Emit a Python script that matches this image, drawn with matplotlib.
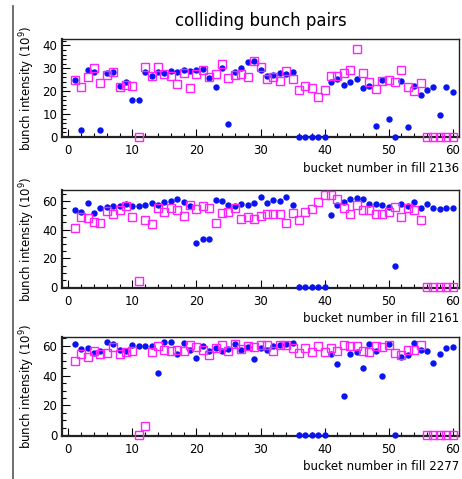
import numpy as np
import matplotlib
matplotlib.use("Agg")
from matplotlib import pyplot as plt
from matplotlib.lines import Line2D
from matplotlib.ticker import MultipleLocator

# bucket numbers 1..60
buckets = list(range(1, 61))

# fill 2136
fill_2136_blue = [25, 3.2, 29.3, 28.2, 3.2, 28, 28.2, 22.4, 23.8, 15.9,
                  16.3, 28.4, 26.6, 28.2, 28, 28.8, 28.5, 29.1, 29, 29.3,
                  29.6, 25.6, 21.9, 29.9, 5.6, 28.4, 30, 32.6, 33.2, 29.3,
                  26.5, 27, 27.8, 27.4, 28.2, 0, 0, 0, 0, 0,
                  24.1, 25.3, 22.5, 24.1, 25.4, 21.3, 22.4, 4.9, 25, 7.6,
                  0, 24.4, 4.3, 22.2, 18.2, 20.6, 21.8, 9.6, 21.8, 19.7]
fill_2136_mag = [25, 21.8, 26.3, 30.1, 23.4, 27, 28.5, 21.8, 22.6, 22.4,
                 0, 30.6, 26.5, 30.7, 27.5, 26.8, 23.2, 27.9, 21.2, 27.5,
                 29.4, 26.3, 27.4, 31.9, 25.6, 26.9, 27.4, 26.2, 33, 30.7,
                 25.1, 26, 24.3, 28.8, 25.1, 20.7, 22.1, 21.2, 17.4, 20.7,
                 26.5, 26.8, 28.1, 29.3, 38.5, 27.8, 24, 20.9, 24.6, 25,
                 24.1, 29.4, 21.6, 19.9, 23.5, 0, 0, 0, 0, 0]

# fill 2161
fill_2161_blue = [53.7, 52.1, 58.4, 51.6, 55.3, 55.8, 56.7, 56.7, 57.9, 56.7,
                  56.3, 57.2, 58.4, 57.4, 59.3, 60.2, 61.2, 59.1, 56.5, 30.7,
                  33.3, 33.5, 60.5, 60.2, 57.4, 56.3, 58.1, 57.2, 58.6, 62.3,
                  58.6, 60.9, 59.8, 62.6, 57.2, 0, 0, 0, 0, 0,
                  50, 57, 59.3, 61.2, 62.1, 61.4, 57.7, 57.7, 57.2, 55.8,
                  14.9, 57.7, 56.3, 59.1, 54.7, 58.1, 55.3, 54.2, 54.7, 54.7]
fill_2161_mag = [41.4, 48.6, 48.1, 45.6, 44.9, 53, 50.9, 53.5, 56.5, 48.6,
                 4.7, 47, 43.7, 55.1, 52.1, 54.9, 53.5, 49.3, 57.4, 54,
                 56.3, 54.7, 44.7, 51.6, 52.1, 54.7, 47.4, 48.8, 47.2, 49.5,
                 50.9, 50.7, 50.5, 44.9, 51.4, 47, 52.1, 54.2, 59.1, 64.2,
                 64.2, 61.2, 55.3, 50.7, 57.4, 53.7, 53.5, 50.5, 50.5, 52.1,
                 56, 48.8, 54.7, 53.7, 47, 0, 0, 0, 0, 0]

# fill 2277
fill_2277_blue = [61.2, 58, 58.9, 55.4, 56.9, 62.5, 61.2, 57.6, 56.9, 60.5,
                  60, 60, 59.8, 41.5, 62.9, 62.5, 54.9, 62.3, 57.4, 52,
                  59.8, 56.9, 58.5, 56.5, 58, 61.2, 57.1, 59.6, 51.5, 58.9,
                  57.4, 59.8, 60.5, 61.4, 62.3, 0, 0, 0, 0, 0,
                  54.9, 47.8, 26.6, 54.9, 56, 44.9, 61.4, 56.9, 39.7, 61.4,
                  0, 52.7, 53.6, 62.1, 57.4, 56.3, 48.7, 54.9, 58.9, 59.6]
fill_2277_mag = [49.8, 54.9, 52.5, 56.5, 54.9, 55.1, 59.2, 54.5, 55.6, 56.3,
                 0, 6.5, 55.6, 60, 57.4, 56.5, 57.4, 56.7, 60.7, 59.4,
                 57.1, 54.2, 58.9, 60.7, 56.5, 61, 58, 59.7, 59.4, 60.7,
                 60.3, 56.3, 60.9, 60.5, 58.3, 55.4, 58.5, 56, 59.8, 56,
                 58.5, 56.5, 60.3, 59.8, 59.8, 56.9, 55.8, 60, 59.4, 60.3,
                 55.1, 54, 57.1, 57.4, 60.7, 0, 0, 0, 0, 0]

fills = ["2136", "2161", "2277"]
blues = [fill_2136_blue, fill_2161_blue, fill_2277_blue]
mags = [fill_2136_mag, fill_2161_mag, fill_2277_mag]

W, H = 462, 479
fig = plt.figure(figsize=(W / 100, H / 100), dpi=100)

# panel boxes in pixels: (top, bottom)
boxes = [(39, 137.5), (190, 288), (337, 436)]
ylims = [(-0.3, 42.8), (-0.5, 67.5), (-0.5, 66)]
ymaj = [10, 20, 20]
ymin = [2, 5, 5]

for i in range(3):
    top, bot = boxes[i]
    ax = fig.add_axes([62 / W, 1 - bot / H, (459 - 62) / W, (bot - top) / H])
    ax.plot(buckets, blues[i], 'o', color='#0a14f0', markersize=4.6,
            markeredgewidth=0, clip_on=False, zorder=3)
    ax.plot(buckets, mags[i], 's', color='#ff22ff', markerfacecolor='none',
            markersize=5.2, markeredgewidth=1.0, clip_on=False, zorder=4)
    ax.set_xlim(-1, 61)
    ax.set_ylim(*ylims[i])
    ax.xaxis.set_major_locator(MultipleLocator(10))
    ax.xaxis.set_minor_locator(MultipleLocator(2))
    ax.yaxis.set_major_locator(MultipleLocator(ymaj[i]))
    ax.yaxis.set_minor_locator(MultipleLocator(ymin[i]))
    ax.tick_params(which='both', direction='in', top=False, right=False,
                   labelsize=8.5, width=0.8)
    ax.tick_params(which='major', length=6)
    ax.tick_params(which='minor', length=3)
    ax.tick_params(axis='x', pad=5)
    for s in ax.spines.values():
        s.set_linewidth(1.0)
        s.set_color('#222222')
    ax.spines['bottom'].set_linewidth(1.6)
    ax.spines['left'].set_linewidth(1.6)
    ax.set_xlabel("bucket number in fill " + fills[i], fontsize=8.5,
                  loc='right', labelpad=3)
    ax.set_ylabel("bunch intensity (10$^9$)", fontsize=8.5, labelpad=4)
    if i == 0:
        ax.set_title("colliding bunch pairs", fontsize=12, pad=9)

fig.add_artist(Line2D([12.5 / W, 12.5 / W], [0, 1 - 6 / H],
                      color='#555555', linewidth=1.2))

plt.savefig("out.png", dpi=100)
